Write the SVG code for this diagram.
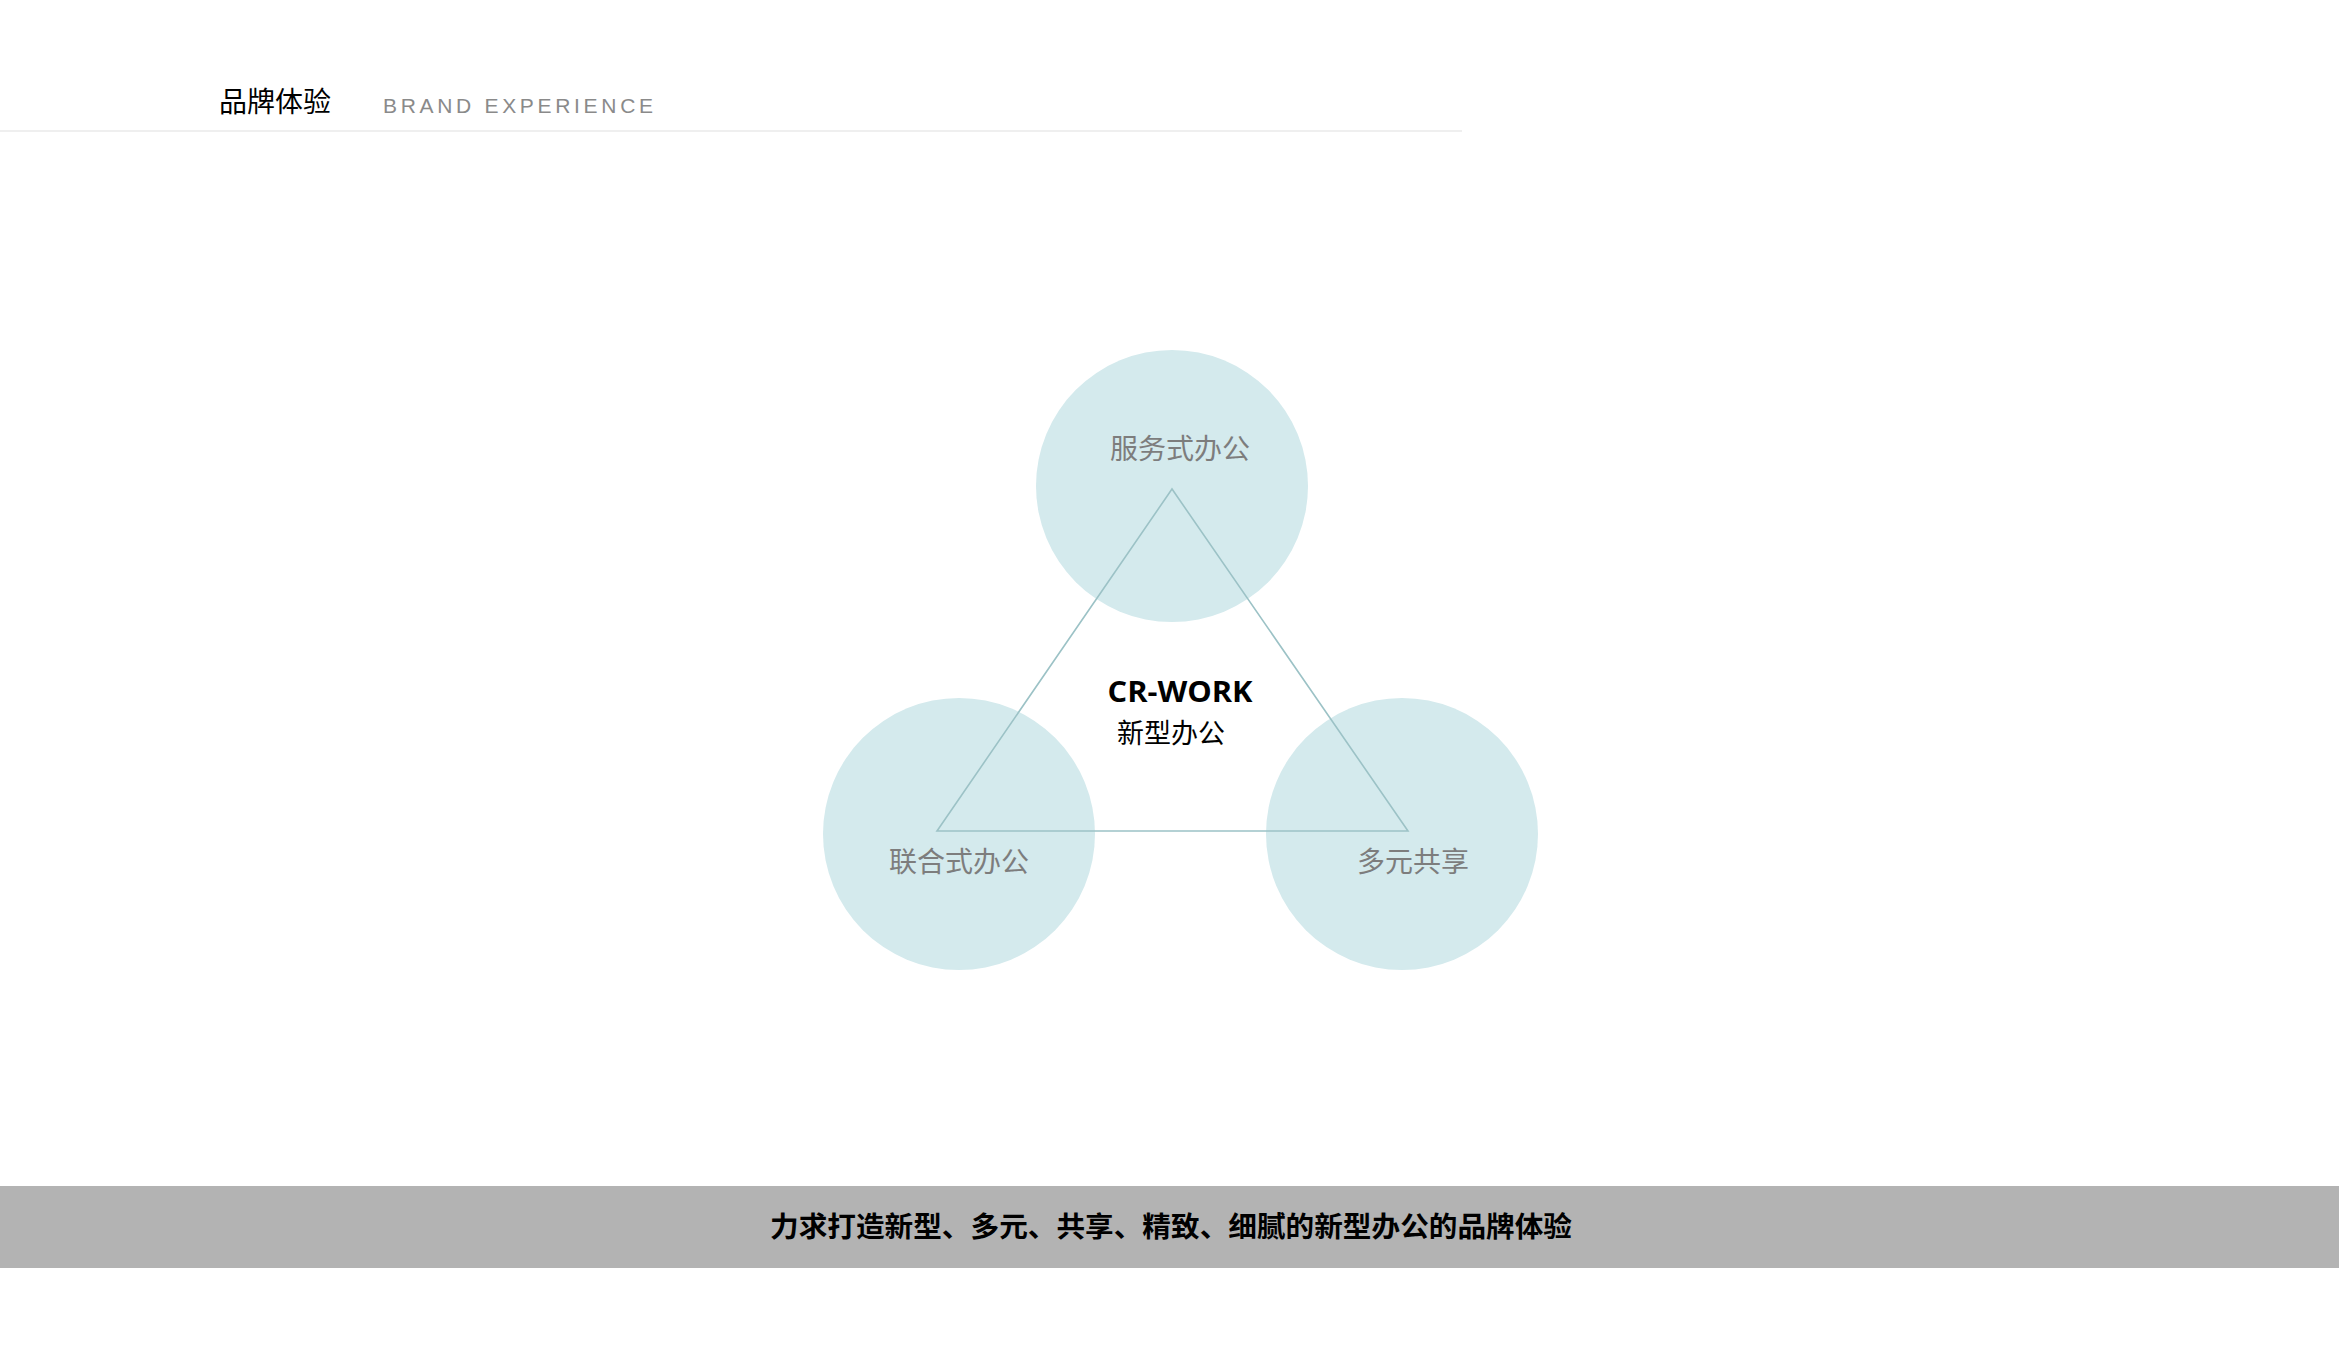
<svg xmlns="http://www.w3.org/2000/svg" width="2339" height="1346" viewBox="0 0 2339 1346">
<style>
.cjk{font-family:"Noto Sans CJK SC","Noto Sans",sans-serif}
.node circle{fill:#d4eaed}
.lbl{font-family:"Noto Sans CJK SC","Noto Sans",sans-serif;font-size:28px;fill:#7d7d7d;text-anchor:middle}
</style>
<rect width="2339" height="1346" fill="#ffffff"/>
<g id="header">
<text x="219" y="112" class="cjk" font-size="28" fill="#000" textLength="112" lengthAdjust="spacingAndGlyphs">品牌体验</text>
<text x="383" y="113" font-family="'Liberation Sans',sans-serif" font-size="21" fill="#8a8a8a" textLength="270" lengthAdjust="spacing">BRAND EXPERIENCE</text>
<rect x="0" y="130" width="1462" height="2" fill="#efefef"/>
</g>
<g id="node-top" class="node">
<circle cx="1172" cy="486" r="136"/>
<text x="1180" y="459" class="lbl">服务式办公</text>
</g>
<g id="node-left" class="node">
<circle cx="959" cy="834" r="136"/>
<text x="959" y="872" class="lbl">联合式办公</text>
</g>
<g id="node-right" class="node">
<circle cx="1402" cy="834" r="136"/>
<text x="1413" y="872" class="lbl">多元共享</text>
</g>
<g id="connectors">
<polygon points="1172,489 937,831 1408,831" fill="none" stroke="#9cc2c6" stroke-width="1.6"/>
</g>
<g id="center">
<text x="1180" y="702" font-family="'Open Sans',sans-serif" font-weight="bold" font-size="28" fill="#000" text-anchor="middle" textLength="145" lengthAdjust="spacingAndGlyphs">CR-WORK</text>
<text x="1171" y="743" class="cjk" font-size="27" fill="#000" text-anchor="middle">新型办公</text>
</g>
<g id="footer">
<rect x="0" y="1186" width="2339" height="82" fill="#b3b3b3"/>
<text x="1171" y="1237" class="cjk" font-size="28" font-weight="bold" fill="#000" text-anchor="middle" textLength="802" lengthAdjust="spacingAndGlyphs">力求打造新型、多元、共享、精致、细腻的新型办公的品牌体验</text>
</g>
</svg>
